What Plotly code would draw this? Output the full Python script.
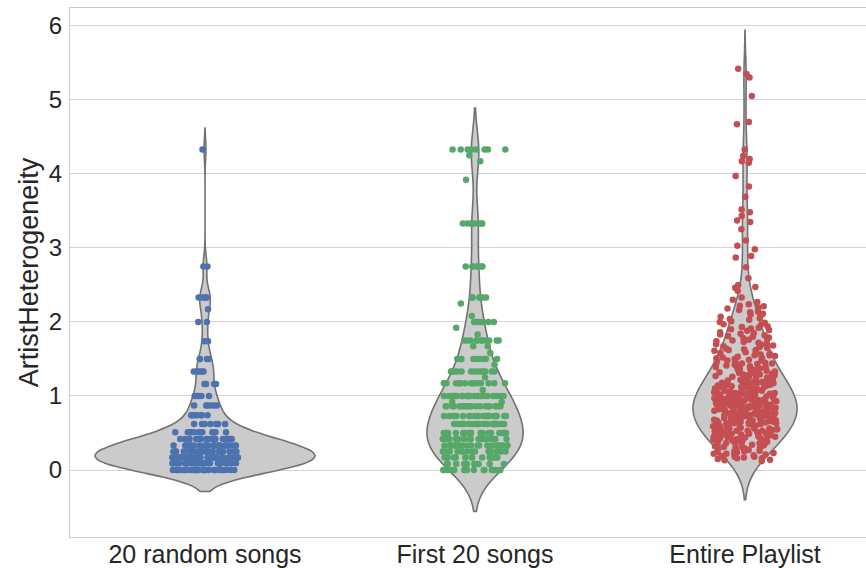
import numpy as np
import plotly.graph_objects as go

categories = ["20 random songs", "First 20 songs", "Entire Playlist"]
point_colors = ["#4C72B0", "#55A868", "#C44E52"]

# 20 random songs: discrete levels and how many songs sit at each level
random_levels = [0.0, 0.09, 0.17, 0.25, 0.33, 0.42, 0.51, 0.62, 0.74, 0.87, 1.0,
                 1.16, 1.33, 1.5, 1.74, 2.0, 2.17, 2.33, 2.75, 4.33]
random_counts = [30, 32, 32, 30, 26, 20, 12, 7, 7, 6, 5,
                 4, 5, 4, 2, 2, 1, 5, 2, 1]

# First 20 songs: discrete levels and counts
first_levels = [0.0, 0.08, 0.17, 0.25, 0.33, 0.42, 0.5, 0.62, 0.73, 0.86, 0.92, 1.0,
                1.08, 1.17, 1.25, 1.33, 1.42, 1.5, 1.58, 1.67, 1.75, 1.83, 1.92, 2.0,
                2.08, 2.25, 2.33, 2.75, 3.33, 3.92, 4.17, 4.25, 4.33]
first_counts = [14, 12, 15, 16, 20, 20, 19, 21, 22, 22, 2, 22,
                1, 15, 1, 14, 1, 9, 1, 2, 11, 1, 1, 7,
                1, 1, 6, 7, 8, 1, 1, 1, 8]

# Entire playlist: individual values
entire_values = [
    5.42, 5.35, 5.30, 5.05, 4.70, 4.67, 4.33, 4.24, 4.20, 4.17, 4.15, 3.97, 3.83, 3.69,
    3.52, 3.48, 3.43, 3.37, 3.35, 3.25, 3.10, 3.03, 2.98, 2.89, 2.87, 2.74, 2.59, 2.50,
    2.47, 2.46, 2.42,
    2.33, 2.30, 2.27, 2.24, 2.22, 2.21,
    2.19, 2.18, 2.16, 2.14, 2.13, 2.11, 2.10,
    2.09, 2.07, 2.05, 2.04, 2.03, 2.01, 2.00,
    1.99, 1.97, 1.96, 1.94, 1.93, 1.92, 1.91, 1.90,
    1.89, 1.88, 1.86, 1.85, 1.84, 1.83, 1.82, 1.81, 1.80,
    1.79, 1.78, 1.77, 1.76, 1.75, 1.74, 1.73, 1.72, 1.71, 1.70,
    1.69, 1.68, 1.67, 1.66, 1.65, 1.64, 1.63, 1.62, 1.62, 1.61, 1.60,
    1.59, 1.58, 1.57, 1.56, 1.55, 1.55, 1.54, 1.53, 1.52, 1.51, 1.51, 1.50,
    1.49, 1.48, 1.48, 1.47, 1.46, 1.45, 1.44, 1.44, 1.43, 1.42, 1.42, 1.41, 1.40, 1.40,
    1.39, 1.39, 1.38, 1.37, 1.37, 1.36, 1.35, 1.35, 1.34, 1.33, 1.33, 1.32, 1.31, 1.31,
    1.30, 1.30,
    1.29, 1.29, 1.28, 1.28, 1.27, 1.26, 1.26, 1.25, 1.25, 1.24, 1.23, 1.23, 1.22, 1.22,
    1.21, 1.21, 1.20, 1.20, 1.24,
    1.19, 1.19, 1.18, 1.18, 1.17, 1.17, 1.16, 1.16, 1.15, 1.15, 1.14, 1.14, 1.13, 1.13,
    1.12, 1.12, 1.11, 1.11, 1.10, 1.10, 1.15, 1.17,
    1.09, 1.09, 1.08, 1.08, 1.08, 1.07, 1.07, 1.06, 1.06, 1.05, 1.05, 1.05, 1.04, 1.04,
    1.03, 1.03, 1.02, 1.02, 1.02, 1.01, 1.01, 1.00, 1.00, 1.06, 1.03,
    0.99, 0.99, 0.98, 0.98, 0.98, 0.97, 0.97, 0.96, 0.96, 0.96, 0.95, 0.95, 0.94, 0.94,
    0.94, 0.93, 0.93, 0.92, 0.92, 0.92, 0.91, 0.91, 0.90, 0.90, 0.97, 0.95, 0.93, 0.91,
    0.89, 0.89, 0.88, 0.88, 0.88, 0.87, 0.87, 0.87, 0.86, 0.86, 0.85, 0.85, 0.85, 0.84,
    0.84, 0.84, 0.83, 0.83, 0.82, 0.82, 0.82, 0.81, 0.81, 0.80, 0.80, 0.86, 0.83, 0.87,
    0.85, 0.81,
    0.79, 0.79, 0.78, 0.78, 0.78, 0.77, 0.77, 0.77, 0.76, 0.76, 0.75, 0.75, 0.75, 0.74,
    0.74, 0.74, 0.73, 0.73, 0.72, 0.72, 0.72, 0.71, 0.71, 0.70, 0.70, 0.76, 0.73, 0.77,
    0.75, 0.71,
    0.69, 0.69, 0.68, 0.68, 0.67, 0.67, 0.67, 0.66, 0.66, 0.65, 0.65, 0.65, 0.64, 0.64,
    0.63, 0.63, 0.63, 0.62, 0.62, 0.61, 0.61, 0.60, 0.60, 0.66, 0.64, 0.62, 0.68,
    0.59, 0.59, 0.58, 0.58, 0.57, 0.57, 0.56, 0.56, 0.55, 0.55, 0.55, 0.54, 0.54, 0.53,
    0.53, 0.52, 0.52, 0.51, 0.51, 0.50, 0.50, 0.56, 0.53, 0.58,
    0.49, 0.49, 0.48, 0.47, 0.47, 0.46, 0.46, 0.45, 0.45, 0.44, 0.44, 0.43, 0.43, 0.42,
    0.42, 0.41, 0.41, 0.40, 0.40, 0.45,
    0.39, 0.38, 0.38, 0.37, 0.36, 0.36, 0.35, 0.34, 0.34, 0.33, 0.33, 0.32, 0.31, 0.31,
    0.30, 0.30,
    0.29, 0.28, 0.27, 0.27, 0.26, 0.25, 0.25, 0.24, 0.24, 0.23, 0.22, 0.22, 0.21, 0.21,
    0.20,
    0.19, 0.18, 0.18, 0.17, 0.16, 0.16, 0.15, 0.14, 0.13, 0.12,
]

y_ticks = [0, 1, 2, 3, 4, 5, 6]
y_title = "ArtistHeterogeneity"

random_values = np.repeat(random_levels, random_counts)
first_values = np.repeat(first_levels, first_counts)
groups = [random_values, first_values, np.array(entire_values)]

bandwidths = [0.145, 0.28, 0.26]
widths = [0.815, 0.355, 0.385]
jitters = [0.3, 0.68, 0.62]

fig = go.Figure()
for cat, vals, col, bw, w, j in zip(categories, groups, point_colors, bandwidths, widths, jitters):
    fig.add_trace(go.Violin(
        x=[cat] * len(vals), y=vals, name=cat,
        bandwidth=bw, spanmode="soft", width=w,
        fillcolor="#cbcbcb", line=dict(color="#727272", width=1.6),
        points="all", pointpos=0, jitter=j,
        marker=dict(color=col, size=6.5, opacity=1, line=dict(width=0)),
        box_visible=False, meanline_visible=False, showlegend=False,
    ))

font_family = "Liberation Sans, Arial, sans-serif"
fig.update_layout(
    width=866, height=568,
    margin=dict(l=70, r=0, t=8, b=31),
    paper_bgcolor="white", plot_bgcolor="white",
    violinmode="overlay",
    font=dict(family=font_family, color="#262626"),
    xaxis=dict(
        type="category", categoryorder="array", categoryarray=categories,
        range=[-0.5, 2.448], showgrid=False, zeroline=False, automargin=False,
        showline=True, mirror=True, linecolor="#cccccc", linewidth=1,
        ticks="", tickfont=dict(size=25), ticklabelstandoff=-5,
    ),
    yaxis=dict(
        range=[-0.905, 6.24], tickvals=y_ticks, automargin=False,
        showgrid=True, gridcolor="#d4d4d4", gridwidth=1, zeroline=False,
        showline=True, mirror=False, linecolor="#cccccc", linewidth=1,
        ticks="", tickfont=dict(size=24), ticklabelstandoff=2,
        title=dict(text=y_title, font=dict(size=27), standoff=2),
    ),
)

fig.write_html("out.html", config={"displayModeBar": False},
               post_script="document.body.style.margin='0px';")
